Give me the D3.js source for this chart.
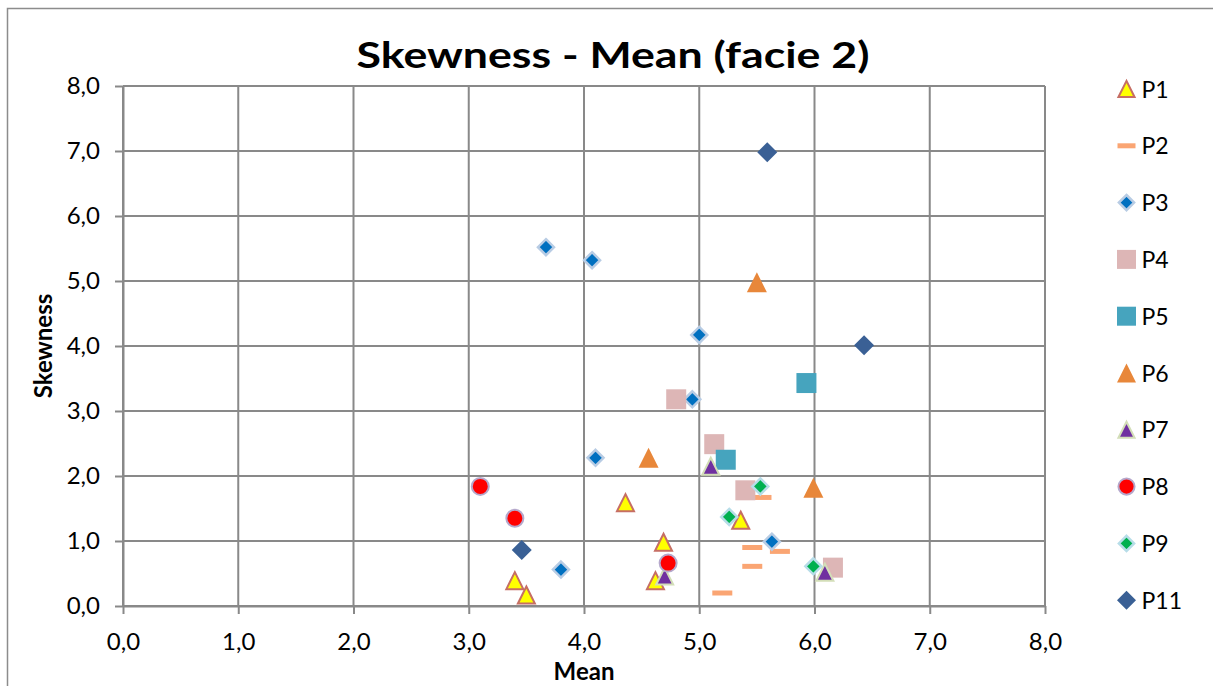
<!DOCTYPE html>
<html>
<head>
<meta charset="utf-8">
<script src="https://cdn.jsdelivr.net/npm/d3@7"></script>
<style>
body { margin: 0; background: #fff; }
text { font-family: Lato, "Open Sans", sans-serif; fill: #000; }
</style>
</head>
<body>
<div id="scatter-area"></div>
<script>
// values (mean, skewness) for each series
var seriesNames = ["P1", "P2", "P3", "P4", "P5", "P6", "P7", "P8", "P9", "P11"];

var p1Mean = [3.40, 3.50, 4.36, 4.69, 4.62, 5.36];
var p1Skew = [0.39, 0.17, 1.59, 0.98, 0.39, 1.32];
var p2Mean = [5.54, 5.46, 5.70, 5.46, 5.20];
var p2Skew = [1.67, 0.90, 0.84, 0.61, 0.20];
var p3Mean = [3.67, 4.07, 5.00, 4.94, 4.10, 3.80, 5.63];
var p3Skew = [5.52, 5.32, 4.17, 3.18, 2.28, 0.56, 0.99];
var p4Mean = [4.80, 5.13, 5.40, 6.16];
var p4Skew = [3.18, 2.49, 1.78, 0.59];
var p5Mean = [5.93, 5.23];
var p5Skew = [3.43, 2.25];
var p6Mean = [5.50, 4.56, 5.99];
var p6Skew = [4.98, 2.28, 1.82];
var p7Mean = [5.10, 4.70, 6.09];
var p7Skew = [2.15, 0.46, 0.52];
var p8Mean = [3.10, 3.40, 4.73];
var p8Skew = [1.84, 1.35, 0.66];
var p9Mean = [5.53, 5.26, 5.99];
var p9Skew = [1.84, 1.37, 0.61];
var p11Mean = [5.59, 6.43, 3.46];
var p11Skew = [6.98, 4.01, 0.86];

var xTicks = [0, 1, 2, 3, 4, 5, 6, 7, 8];
var yTicks = [0, 1, 2, 3, 4, 5, 6, 7, 8];

var allMeans = [p1Mean, p2Mean, p3Mean, p4Mean, p5Mean, p6Mean, p7Mean, p8Mean, p9Mean, p11Mean];
var allSkews = [p1Skew, p2Skew, p3Skew, p4Skew, p5Skew, p6Skew, p7Skew, p8Skew, p9Skew, p11Skew];

// marker look for every series, same order as seriesNames
var markerStyles = [
    { shape: "triangle", size: 17, fill: "#FFFF00", stroke: "#C66E64", sw: 2 },
    { shape: "dash", size: 20, fill: "#FAA573", stroke: "none", sw: 0 },
    { shape: "diamond", size: 16, fill: "#0070C0", stroke: "#B8CCE4", sw: 2.5 },
    { shape: "square", size: 20, fill: "#DDB6B6", stroke: "none", sw: 0 },
    { shape: "square", size: 20, fill: "#46A4BE", stroke: "none", sw: 0 },
    { shape: "triangle", size: 20, fill: "#E8873A", stroke: "none", sw: 0 },
    { shape: "triangle", size: 17, fill: "#7030A0", stroke: "#D3DEB8", sw: 2 },
    { shape: "circle", size: 17, fill: "#FF0000", stroke: "#B5A8CC", sw: 2 },
    { shape: "diamond", size: 16, fill: "#00B050", stroke: "#B7DDE8", sw: 2.5 },
    { shape: "diamond", size: 20, fill: "#3A6095", stroke: "none", sw: 0 }
];

function markerPath(shape, s) {
    var h = s / 2;
    if (shape == "triangle") return "M0," + (-h) + "L" + h + "," + h + "L" + (-h) + "," + h + "Z";
    if (shape == "diamond") return "M0," + (-h) + "L" + h + ",0L0," + h + "L" + (-h) + ",0Z";
    if (shape == "square") return "M" + (-h) + "," + (-h) + "h" + s + "v" + s + "h" + (-s) + "Z";
    if (shape == "dash") return "M" + (-h) + ",-2.5h" + s + "v5h" + (-s) + "Z";
    // circle
    return "M" + (-h) + ",0A" + h + "," + h + " 0 1,0 " + h + ",0A" + h + "," + h + " 0 1,0 " + (-h) + ",0Z";
}

function ScatterChart(_parentElement) {
    this.parentElement = _parentElement;
    this.initVis();
}

ScatterChart.prototype.initVis = function () {
    var vis = this;

    vis.width = 1213;
    vis.height = 686;

    vis.svg = d3.select("#" + vis.parentElement).append("svg")
        .attr("width", vis.width)
        .attr("height", vis.height);

    // chart frame, only top and left show inside the picture
    vis.svg.append("rect")
        .attr("x", 7.5)
        .attr("y", 8.5)
        .attr("width", 1300)
        .attr("height", 800)
        .attr("fill", "none")
        .attr("stroke", "#8c8c8c")
        .attr("stroke-width", 1.5);

    vis.x = d3.scaleLinear().domain([0, 8]).range([123, 1045]);
    vis.y = d3.scaleLinear().domain([0, 8]).range([606, 86]);

    this.updateVis();
}

ScatterChart.prototype.updateVis = function () {
    var vis = this;
    var fmt = function (d) { return d3.format(".1f")(d).replace(".", ","); };

    // grid
    vis.svg.selectAll(".vgrid")
        .data(xTicks)
        .enter()
        .append("line")
        .attr("class", "vgrid")
        .attr("x1", function (d) { return vis.x(d); })
        .attr("x2", function (d) { return vis.x(d); })
        .attr("y1", vis.y(0))
        .attr("y2", vis.y(8))
        .attr("stroke", "#898989")
        .attr("stroke-width", 2);

    vis.svg.selectAll(".hgrid")
        .data(yTicks)
        .enter()
        .append("line")
        .attr("class", "hgrid")
        .attr("x1", vis.x(0))
        .attr("x2", vis.x(8))
        .attr("y1", function (d) { return vis.y(d); })
        .attr("y2", function (d) { return vis.y(d); })
        .attr("stroke", "#898989")
        .attr("stroke-width", 2);

    // axes
    var xAxis = d3.axisBottom(vis.x).tickValues(xTicks).tickFormat(fmt).tickSize(8).tickSizeOuter(0);
    var yAxis = d3.axisLeft(vis.y).tickValues(yTicks).tickFormat(fmt).tickSize(8).tickSizeOuter(0).tickPadding(15);

    var gx = vis.svg.append("g")
        .attr("transform", "translate(0," + vis.y(0) + ")")
        .call(xAxis);
    gx.selectAll("text").attr("y", 44).attr("dy", null);

    var gy = vis.svg.append("g")
        .attr("transform", "translate(" + vis.x(0) + ",0)")
        .call(yAxis);

    [gx, gy].forEach(function (g) {
        g.select(".domain").attr("stroke", "#898989").attr("stroke-width", 2);
        g.selectAll(".tick line").attr("stroke", "#898989").attr("stroke-width", 2);
        g.selectAll("text")
            .style("font-family", "Lato, 'Open Sans', sans-serif")
            .style("font-size", "24px")
            .attr("fill", "#000");
    });

    // points, series in order so later ones sit on top
    seriesNames.forEach(function (name, i) {
        var st = markerStyles[i];
        var pts = allMeans[i].map(function (m, j) { return [m, allSkews[i][j]]; });
        vis.svg.selectAll(".pt-" + name)
            .data(pts)
            .enter()
            .append("path")
            .attr("class", "pt-" + name)
            .attr("d", markerPath(st.shape, st.size))
            .attr("transform", function (d) { return "translate(" + vis.x(d[0]) + "," + vis.y(d[1]) + ")"; })
            .attr("fill", st.fill)
            .attr("stroke", st.stroke)
            .attr("stroke-width", st.sw);
    });

    // legend
    var legend = vis.svg.selectAll(".legend")
        .data(seriesNames)
        .enter()
        .append("g")
        .attr("class", "legend")
        .attr("transform", function (d, i) { return "translate(1126.5," + (89 + i * 56.8) + ")"; });

    legend.append("path")
        .attr("d", function (d, i) {
            var st = markerStyles[i];
            return markerPath(st.shape, st.shape == "dash" ? 18 : st.size * 0.95);
        })
        .attr("fill", function (d, i) { return markerStyles[i].fill; })
        .attr("stroke", function (d, i) { return markerStyles[i].stroke; })
        .attr("stroke-width", function (d, i) { return markerStyles[i].sw; });

    legend.append("text")
        .attr("x", 15)
        .attr("y", 8.5)
        .style("font-size", "23px")
        .text(function (d) { return d; });

    // titles
    vis.svg.append("text")
        .attr("x", 613)
        .attr("y", 68)
        .attr("text-anchor", "middle")
        .attr("textLength", 513)
        .attr("lengthAdjust", "spacingAndGlyphs")
        .style("font-size", "36px")
        .style("font-weight", "bold")
        .text("Skewness - Mean (facie 2)");

    vis.svg.append("text")
        .attr("x", 584)
        .attr("y", 680)
        .attr("text-anchor", "middle")
        .style("font-size", "24px")
        .style("font-weight", "bold")
        .text("Mean");

    vis.svg.append("text")
        .attr("transform", "translate(52,346) rotate(-90)")
        .attr("text-anchor", "middle")
        .style("font-size", "24px")
        .style("font-weight", "bold")
        .text("Skewness");
}

new ScatterChart("scatter-area");
</script>
</body>
</html>
